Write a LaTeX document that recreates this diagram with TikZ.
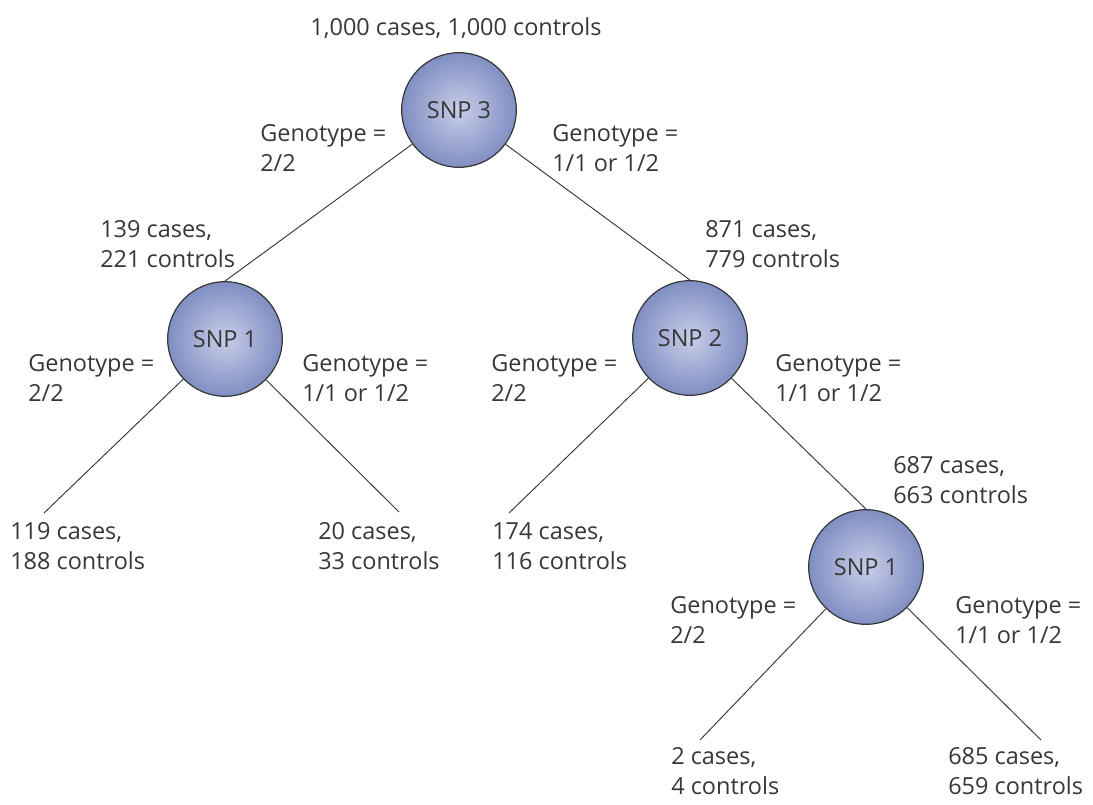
\documentclass[tikz,border=0pt]{standalone}
\usepackage{fontspec}
\setmainfont{Open Sans}
\usepackage{tikz}
\usetikzlibrary{positioning}
\definecolor{snpin}{RGB}{200,206,233}
\definecolor{snpout}{RGB}{128,142,194}
\definecolor{inkgray}{RGB}{55,55,55}

\begin{document}
\begin{tikzpicture}[x=0.75pt,y=-0.75pt,
  snp/.style={circle,draw=inkgray,line width=0.9pt,minimum size=86pt,inner sep=0pt,
              inner color=snpin,outer color=snpout,text=inkgray},
  lbl/.style={anchor=west,align=left,inner sep=0pt,text=inkgray},
  edge/.style={draw=inkgray,line width=0.7pt},
  every node/.append style={font=\fontsize{17.6}{22.5}\selectfont}]
 \useasboundingbox (0,0) rectangle (1093,805);
 \node[snp] (snpthree) at (459,110) {SNP 3};
 \node[snp] (snpone) at (225,339) {SNP 1};
 \node[snp] (snptwo) at (690,338) {SNP 2};
 \node[snp] (snponeb) at (866,567) {SNP 1};
 \node[text=inkgray,inner sep=0pt] (rootcount) at (456,28) {1,000 cases, 1,000 controls};
 \node[lbl] (gthreel) at (260,148) {Genotype =\\2/2};
 \node[lbl] (gthreer) at (552,148) {Genotype =\\1/1 or 1/2};
 \node[lbl] (cnt139) at (100,244) {139 cases,\\221 controls};
 \node[lbl] (cnt871) at (705,244) {871 cases,\\779 controls};
 \node[lbl] (gonel) at (28,378) {Genotype =\\2/2};
 \node[lbl] (goner) at (302,378) {Genotype =\\1/1 or 1/2};
 \node[lbl] (gtwol) at (491,378) {Genotype =\\2/2};
 \node[lbl] (gtwor) at (775,378) {Genotype =\\1/1 or 1/2};
 \node[lbl] (cnt687) at (893,480) {687 cases,\\663 controls};
 \node[lbl] (cnt119) at (10,546) {119 cases,\\188 controls};
 \node[lbl] (cnt20) at (318,546) {20 cases,\\33 controls};
 \node[lbl] (cnt174) at (492,546) {174 cases,\\116 controls};
 \node[lbl] (gonebl) at (670,620) {Genotype =\\2/2};
 \node[lbl] (gonebr) at (955,620) {Genotype =\\1/1 or 1/2};
 \node[lbl] (cnt2) at (671,771) {2 cases,\\4 controls};
 \node[lbl] (cnt685) at (948,771) {685 cases,\\659 controls};
 \coordinate (end119) at (44,513);
 \coordinate (end20) at (399,512);
 \coordinate (end174) at (509,513);
 \coordinate (end2) at (700,740);
 \coordinate (end685) at (1041,740);
 \draw[edge] (snpthree) -- (snpone.north);
 \draw[edge] (snpthree) -- (snptwo.north);
 \draw[edge] (snpone) -- (end119);
 \draw[edge] (snpone) -- (end20);
 \draw[edge] (snptwo) -- (end174);
 \draw[edge] (snptwo) -- (snponeb.north);
 \draw[edge] (snponeb) -- (end2);
 \draw[edge] (snponeb) -- (end685);
\end{tikzpicture}
\end{document}
